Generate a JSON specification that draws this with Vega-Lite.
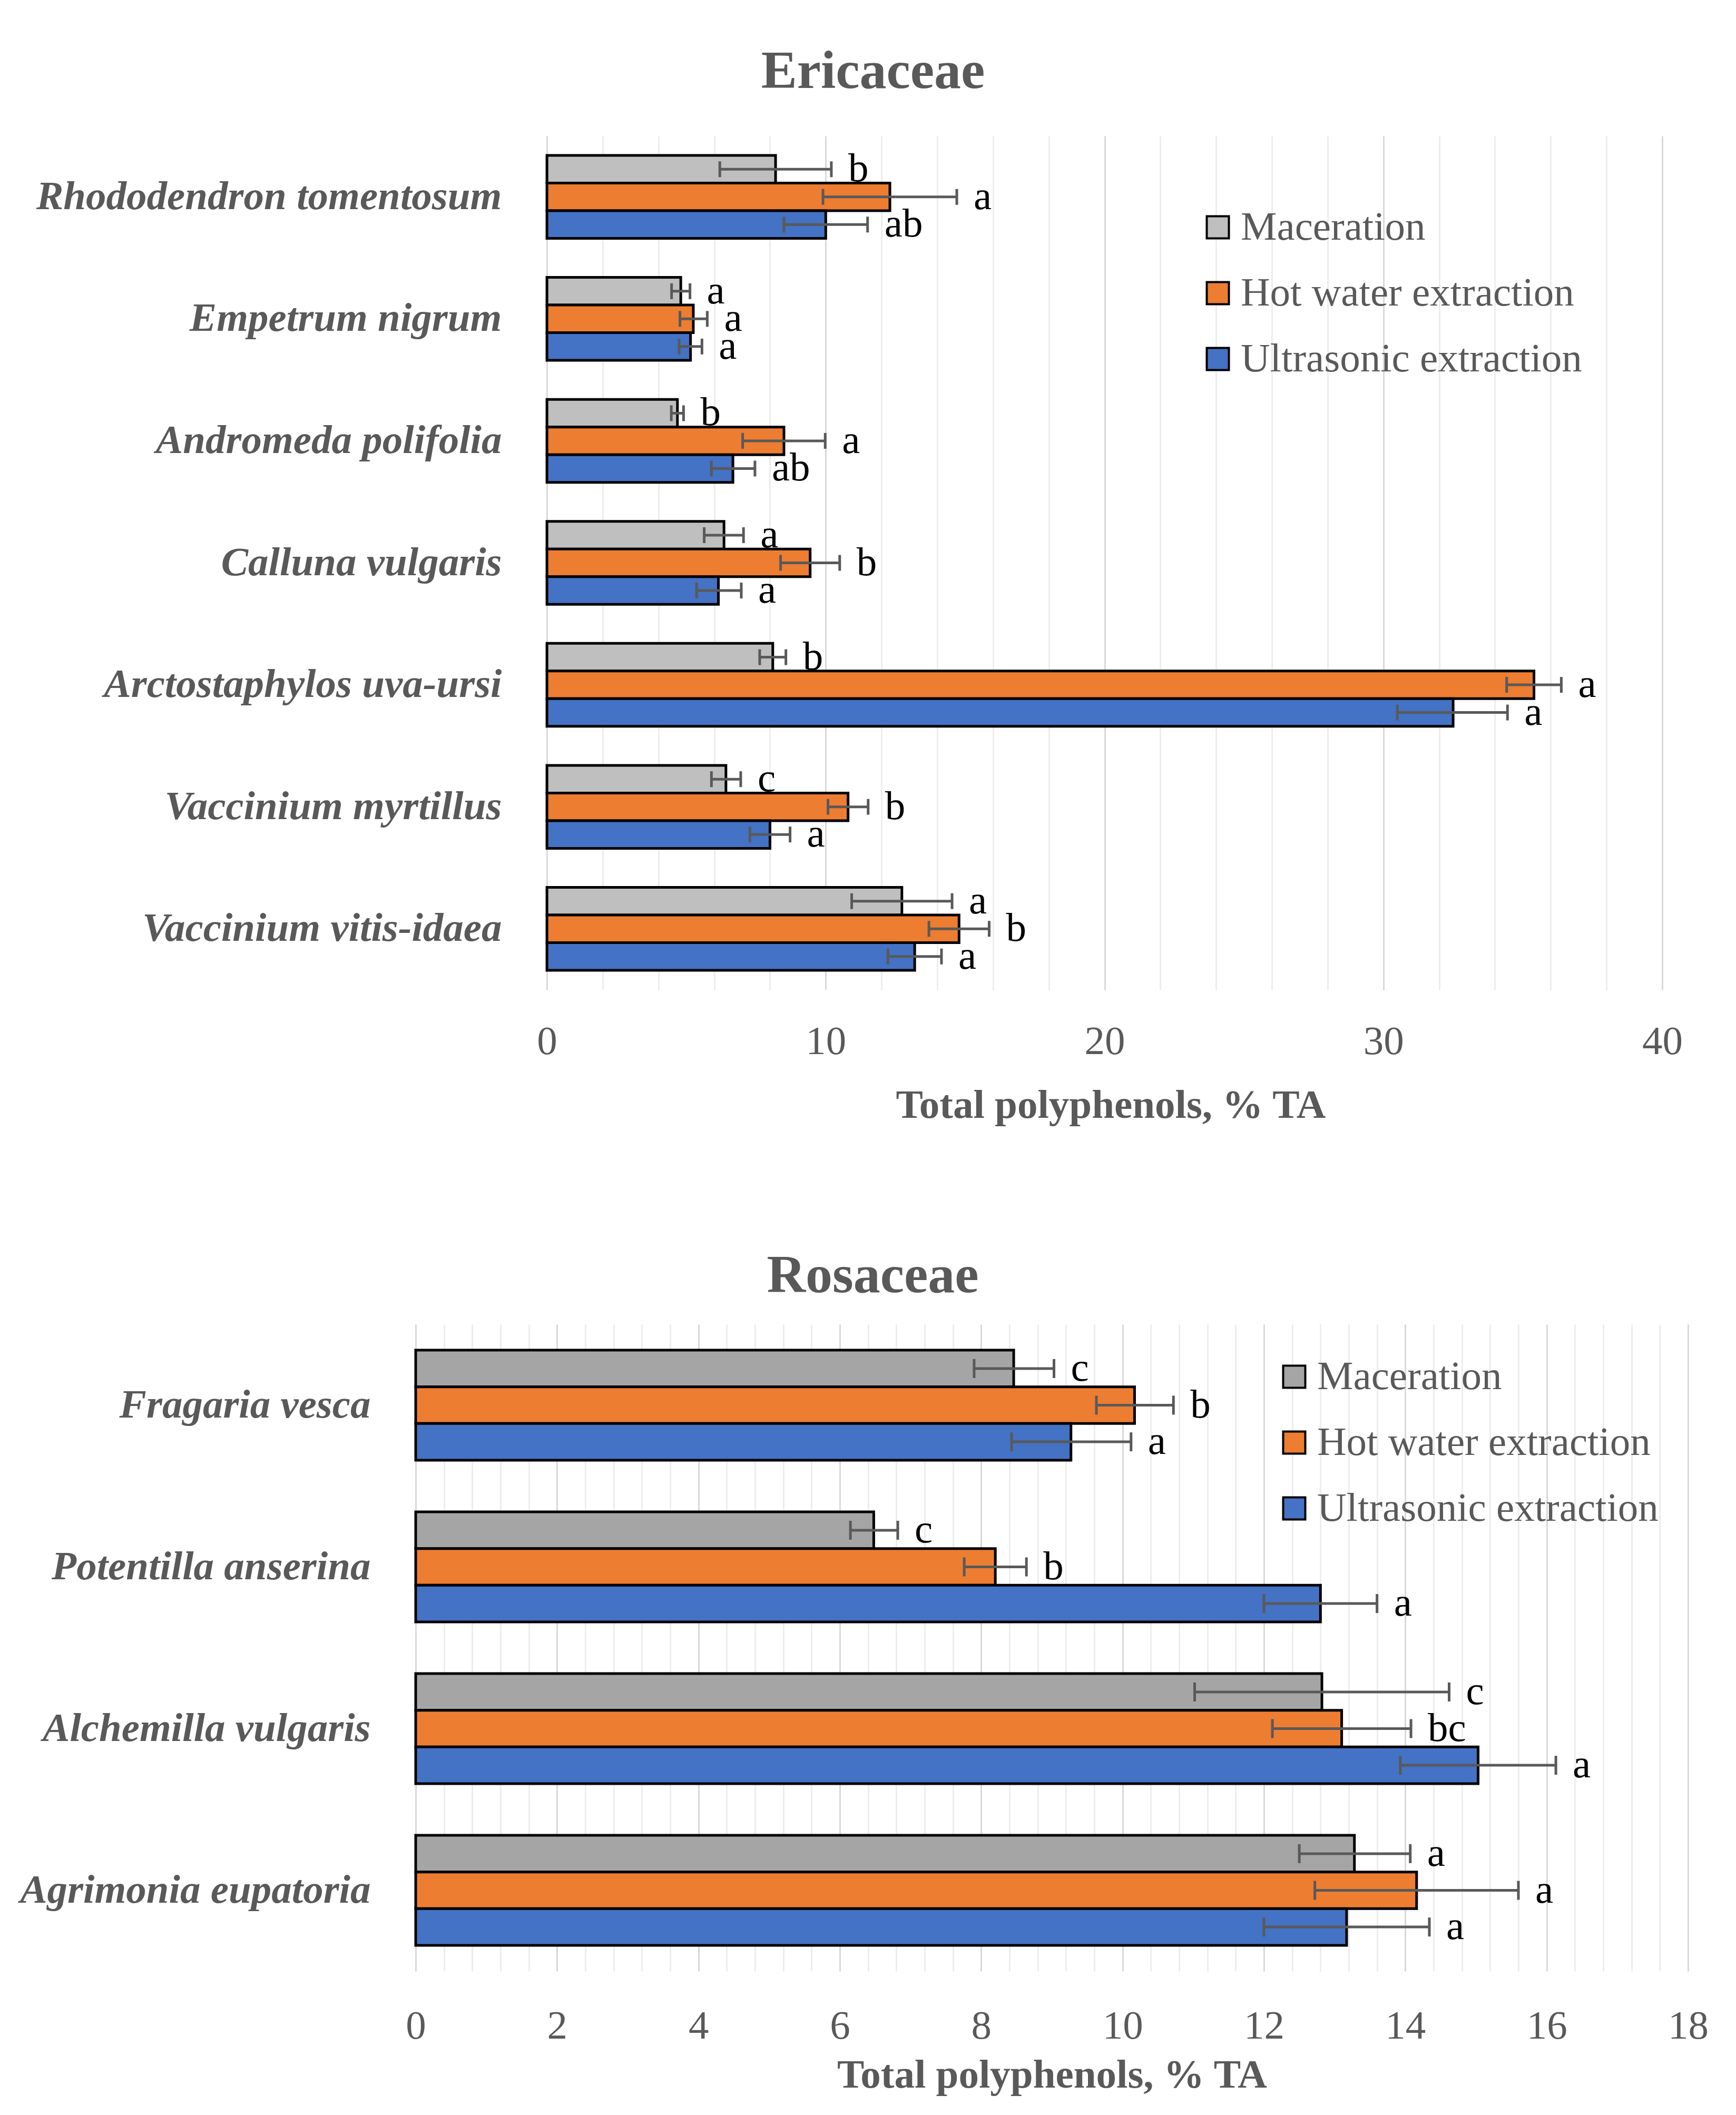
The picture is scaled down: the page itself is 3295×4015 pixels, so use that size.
{
  "$schema": "https://vega.github.io/schema/vega-lite/v6.json",
  "background": "white",
  "padding": {"left": 37, "top": 85, "right": 0, "bottom": 25},
  "columns": 1,
  "spacing": 235,
  "resolve": {
    "scale": {"color": "independent", "x": "independent", "y": "independent", "yOffset": "independent"},
    "legend": {"color": "independent"},
    "axis": {"x": "independent", "y": "independent"}
  },
  "config": {
    "view": {"stroke": null},
    "font": "Liberation Serif"
  },
  "concat": [
    {
      "title": {"text": "Ericaceae", "frame": "group", "anchor": "middle", "dx": -315, "font": "Liberation Serif", "fontSize": 102, "fontWeight": "bold", "color": "#595959", "offset": 70},
      "width": 2366,
      "height": 1621,
      "data": {"values": [
        {"species": "Rhododendron tomentosum", "method": "Maceration", "value": 8.2, "lo": 6.2, "hi": 10.2, "letter": "b"},
        {"species": "Rhododendron tomentosum", "method": "Hot water extraction", "value": 12.3, "lo": 9.9, "hi": 14.7, "letter": "a"},
        {"species": "Rhododendron tomentosum", "method": "Ultrasonic extraction", "value": 10.0, "lo": 8.5, "hi": 11.5, "letter": "ab"},
        {"species": "Empetrum nigrum", "method": "Maceration", "value": 4.8, "lo": 4.47, "hi": 5.13, "letter": "a"},
        {"species": "Empetrum nigrum", "method": "Hot water extraction", "value": 5.25, "lo": 4.77, "hi": 5.75, "letter": "a"},
        {"species": "Empetrum nigrum", "method": "Ultrasonic extraction", "value": 5.15, "lo": 4.74, "hi": 5.56, "letter": "a"},
        {"species": "Andromeda polifolia", "method": "Maceration", "value": 4.68, "lo": 4.46, "hi": 4.9, "letter": "b"},
        {"species": "Andromeda polifolia", "method": "Hot water extraction", "value": 8.5, "lo": 7.02, "hi": 9.98, "letter": "a"},
        {"species": "Andromeda polifolia", "method": "Ultrasonic extraction", "value": 6.67, "lo": 5.9, "hi": 7.46, "letter": "ab"},
        {"species": "Calluna vulgaris", "method": "Maceration", "value": 6.35, "lo": 5.64, "hi": 7.05, "letter": "a"},
        {"species": "Calluna vulgaris", "method": "Hot water extraction", "value": 9.44, "lo": 8.38, "hi": 10.5, "letter": "b"},
        {"species": "Calluna vulgaris", "method": "Ultrasonic extraction", "value": 6.15, "lo": 5.37, "hi": 6.97, "letter": "a"},
        {"species": "Arctostaphylos uva-ursi", "method": "Maceration", "value": 8.1, "lo": 7.63, "hi": 8.57, "letter": "b"},
        {"species": "Arctostaphylos uva-ursi", "method": "Hot water extraction", "value": 35.4, "lo": 34.42, "hi": 36.38, "letter": "a"},
        {"species": "Arctostaphylos uva-ursi", "method": "Ultrasonic extraction", "value": 32.5, "lo": 30.5, "hi": 34.45, "letter": "a"},
        {"species": "Vaccinium myrtillus", "method": "Maceration", "value": 6.42, "lo": 5.9, "hi": 6.95, "letter": "c"},
        {"species": "Vaccinium myrtillus", "method": "Hot water extraction", "value": 10.8, "lo": 10.08, "hi": 11.52, "letter": "b"},
        {"species": "Vaccinium myrtillus", "method": "Ultrasonic extraction", "value": 8.0, "lo": 7.28, "hi": 8.72, "letter": "a"},
        {"species": "Vaccinium vitis-idaea", "method": "Maceration", "value": 12.73, "lo": 10.93, "hi": 14.53, "letter": "a"},
        {"species": "Vaccinium vitis-idaea", "method": "Hot water extraction", "value": 14.78, "lo": 13.7, "hi": 15.86, "letter": "b"},
        {"species": "Vaccinium vitis-idaea", "method": "Ultrasonic extraction", "value": 13.19, "lo": 12.23, "hi": 14.15, "letter": "a"}
      ]},
      "encoding": {
        "y": {
          "field": "species", "type": "nominal",
          "sort": ["Rhododendron tomentosum", "Empetrum nigrum", "Andromeda polifolia", "Calluna vulgaris", "Arctostaphylos uva-ursi", "Vaccinium myrtillus", "Vaccinium vitis-idaea"],
          "scale": {"paddingInner": 0.32, "paddingOuter": 0.16},
          "axis": {"title": null, "offset": -249, "domain": false, "ticks": false, "grid": false, "labelPadding": 86, "labelFont": "Liberation Serif", "labelFontSize": 77, "labelFontStyle": "italic", "labelFontWeight": "bold", "labelColor": "#595959", "labelLimit": 2000}
        },
        "yOffset": {
          "field": "method", "type": "nominal",
          "sort": ["Maceration", "Hot water extraction", "Ultrasonic extraction"],
          "scale": {"paddingInner": 0, "paddingOuter": 0}
        }
      },
      "layer": [
        {
          "mark": {"type": "bar", "stroke": "black", "strokeWidth": 5},
          "encoding": {
            "x": {
              "field": "value", "type": "quantitative", "title": "Total polyphenols, % TA",
              "scale": {"domain": [-4.707, 40], "nice": false, "zero": false},
              "axis": {
                "values": [0, 2, 4, 6, 8, 10, 12, 14, 16, 18, 20, 22, 24, 26, 28, 30, 32, 34, 36, 38, 40],
                "labelExpr": "datum.value % 10 === 0 ? format(datum.value, 'd') : ''",
                "grid": true,
                "gridColor": {"condition": {"test": "datum.value % 10 === 0", "value": "#D9D9D9"}, "value": "#EDEDED"},
                "gridWidth": 3,
                "domain": false, "ticks": false,
                "labelFont": "Liberation Serif", "labelFontSize": 77, "labelColor": "#595959", "labelPadding": 60, "labelFlush": false, "labelOverlap": false,
                "titleFont": "Liberation Serif", "titleFontSize": 77, "titleFontWeight": "bold", "titleColor": "#595959", "titlePadding": 45, "titleX": 1319, "titleAlign": "center", "titleAnchor": null
              }
            },
            "x2": {"datum": 0},
            "color": {
              "field": "method", "type": "nominal",
              "scale": {"domain": ["Maceration", "Hot water extraction", "Ultrasonic extraction"], "range": ["#BFBFBF", "#ED7D31", "#4472C4"]},
              "legend": {"orient": "none", "legendX": 1484, "legendY": 135, "title": null, "padding": 0, "symbolType": "square", "symbolSize": 1764, "symbolStrokeColor": "black", "symbolStrokeWidth": 4, "symbolOpacity": 1, "labelFont": "Liberation Serif", "labelFontSize": 77, "labelColor": "#595959", "labelOffset": 5, "rowPadding": 47, "labelLimit": 2000}
            }
          }
        },
        {
          "mark": {"type": "rule", "color": "#595959", "strokeWidth": 5},
          "encoding": {"x": {"field": "lo", "type": "quantitative", "title": "Total polyphenols, % TA"}, "x2": {"field": "hi"}}
        },
        {
          "mark": {"type": "tick", "color": "#595959", "thickness": 5, "size": 30, "opacity": 1},
          "encoding": {"x": {"field": "lo", "type": "quantitative", "title": "Total polyphenols, % TA"}}
        },
        {
          "mark": {"type": "tick", "color": "#595959", "thickness": 5, "size": 30, "opacity": 1},
          "encoding": {"x": {"field": "hi", "type": "quantitative", "title": "Total polyphenols, % TA"}}
        },
        {
          "mark": {"type": "text", "align": "left", "baseline": "middle", "dx": 32, "font": "Liberation Serif", "fontSize": 77, "color": "black"},
          "encoding": {"x": {"field": "hi", "type": "quantitative", "title": "Total polyphenols, % TA"}, "text": {"field": "letter"}}
        }
      ]
    },
    {
      "title": {"text": "Rosaceae", "frame": "group", "anchor": "middle", "dx": -340, "font": "Liberation Serif", "fontSize": 102, "fontWeight": "bold", "color": "#595959", "offset": 40},
      "width": 2415,
      "height": 1228,
      "data": {"values": [
        {"species": "Fragaria vesca", "method": "Maceration", "value": 8.46, "lo": 7.9, "hi": 9.03, "letter": "c"},
        {"species": "Fragaria vesca", "method": "Hot water extraction", "value": 10.17, "lo": 9.63, "hi": 10.72, "letter": "b"},
        {"species": "Fragaria vesca", "method": "Ultrasonic extraction", "value": 9.27, "lo": 8.43, "hi": 10.12, "letter": "a"},
        {"species": "Potentilla anserina", "method": "Maceration", "value": 6.48, "lo": 6.15, "hi": 6.82, "letter": "c"},
        {"species": "Potentilla anserina", "method": "Hot water extraction", "value": 8.2, "lo": 7.76, "hi": 8.64, "letter": "b"},
        {"species": "Potentilla anserina", "method": "Ultrasonic extraction", "value": 12.8, "lo": 12.0, "hi": 13.6, "letter": "a"},
        {"species": "Alchemilla vulgaris", "method": "Maceration", "value": 12.82, "lo": 11.02, "hi": 14.62, "letter": "c"},
        {"species": "Alchemilla vulgaris", "method": "Hot water extraction", "value": 13.1, "lo": 12.12, "hi": 14.08, "letter": "bc"},
        {"species": "Alchemilla vulgaris", "method": "Ultrasonic extraction", "value": 15.03, "lo": 13.93, "hi": 16.13, "letter": "a"},
        {"species": "Agrimonia eupatoria", "method": "Maceration", "value": 13.28, "lo": 12.5, "hi": 14.07, "letter": "a"},
        {"species": "Agrimonia eupatoria", "method": "Hot water extraction", "value": 14.16, "lo": 12.72, "hi": 15.6, "letter": "a"},
        {"species": "Agrimonia eupatoria", "method": "Ultrasonic extraction", "value": 13.17, "lo": 12.0, "hi": 14.34, "letter": "a"}
      ]},
      "encoding": {
        "y": {
          "field": "species", "type": "nominal",
          "sort": ["Fragaria vesca", "Potentilla anserina", "Alchemilla vulgaris", "Agrimonia eupatoria"],
          "scale": {"paddingInner": 0.32, "paddingOuter": 0.16},
          "axis": {"title": null, "domain": false, "ticks": false, "grid": false, "labelPadding": 86, "labelFont": "Liberation Serif", "labelFontSize": 77, "labelFontStyle": "italic", "labelFontWeight": "bold", "labelColor": "#595959", "labelLimit": 2000}
        },
        "yOffset": {
          "field": "method", "type": "nominal",
          "sort": ["Maceration", "Hot water extraction", "Ultrasonic extraction"],
          "scale": {"paddingInner": 0, "paddingOuter": 0}
        }
      },
      "layer": [
        {
          "mark": {"type": "bar", "stroke": "black", "strokeWidth": 5},
          "encoding": {
            "x": {
              "field": "value", "type": "quantitative", "title": "Total polyphenols, % TA",
              "scale": {"domain": [0, 18], "nice": false, "zero": true},
              "axis": {
                "values": [0, 0.4, 0.8, 1.2, 1.6, 2, 2.4, 2.8, 3.2, 3.6, 4, 4.4, 4.8, 5.2, 5.6, 6, 6.4, 6.8, 7.2, 7.6, 8, 8.4, 8.8, 9.2, 9.6, 10, 10.4, 10.8, 11.2, 11.6, 12, 12.4, 12.8, 13.2, 13.6, 14, 14.4, 14.8, 15.2, 15.6, 16, 16.4, 16.8, 17.2, 17.6, 18],
                "labelExpr": "abs(datum.value / 2 - round(datum.value / 2)) < 0.01 ? format(datum.value, 'd') : ''",
                "grid": true,
                "gridColor": {"condition": {"test": "abs(datum.value / 2 - round(datum.value / 2)) < 0.01", "value": "#D9D9D9"}, "value": "#EDEDED"},
                "gridWidth": 3,
                "domain": false, "ticks": false,
                "labelFont": "Liberation Serif", "labelFontSize": 77, "labelColor": "#595959", "labelPadding": 66, "labelFlush": false, "labelOverlap": false,
                "titleFont": "Liberation Serif", "titleFontSize": 77, "titleFontWeight": "bold", "titleColor": "#595959", "titlePadding": 17
              }
            },
            "color": {
              "field": "method", "type": "nominal",
              "scale": {"domain": ["Maceration", "Hot water extraction", "Ultrasonic extraction"], "range": ["#A5A5A5", "#ED7D31", "#4472C4"]},
              "legend": {"orient": "none", "legendX": 1629, "legendY": 61, "title": null, "padding": 0, "symbolType": "square", "symbolSize": 1764, "symbolStrokeColor": "black", "symbolStrokeWidth": 4, "symbolOpacity": 1, "labelFont": "Liberation Serif", "labelFontSize": 77, "labelColor": "#595959", "labelOffset": 5, "rowPadding": 47, "labelLimit": 2000}
            }
          }
        },
        {
          "mark": {"type": "rule", "color": "#595959", "strokeWidth": 5},
          "encoding": {"x": {"field": "lo", "type": "quantitative", "title": "Total polyphenols, % TA"}, "x2": {"field": "hi"}}
        },
        {
          "mark": {"type": "tick", "color": "#595959", "thickness": 5, "size": 36, "opacity": 1},
          "encoding": {"x": {"field": "lo", "type": "quantitative", "title": "Total polyphenols, % TA"}}
        },
        {
          "mark": {"type": "tick", "color": "#595959", "thickness": 5, "size": 36, "opacity": 1},
          "encoding": {"x": {"field": "hi", "type": "quantitative", "title": "Total polyphenols, % TA"}}
        },
        {
          "mark": {"type": "text", "align": "left", "baseline": "middle", "dx": 32, "font": "Liberation Serif", "fontSize": 77, "color": "black"},
          "encoding": {"x": {"field": "hi", "type": "quantitative", "title": "Total polyphenols, % TA"}, "text": {"field": "letter"}}
        }
      ]
    }
  ]
}
